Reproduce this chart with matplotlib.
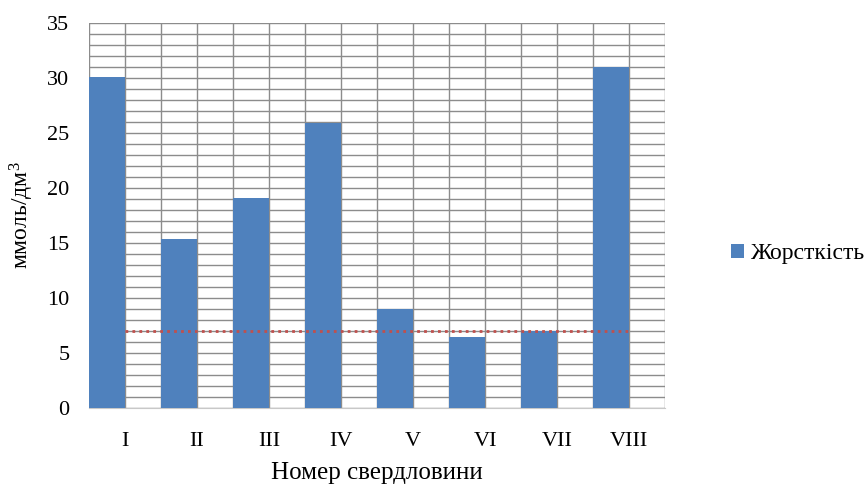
import numpy as np
import matplotlib
matplotlib.use('Agg')
import matplotlib.pyplot as plt
from matplotlib.ticker import MultipleLocator

# data
wells    = ['I', 'II', 'III', 'IV', 'V', 'VI', 'VII', 'VIII']
hardness = [30.1, 15.4, 19.1, 25.9, 9.0, 6.5, 7.0, 31.0]
norm     = [7.0] * len(wells)

plt.rcParams['font.family'] = ['Liberation Serif', 'DejaVu Serif']
plt.rcParams['mathtext.fontset'] = 'custom'
plt.rcParams['mathtext.rm'] = 'Liberation Serif'

fig = plt.figure(figsize=(8.68, 4.87), dpi=100)
ax = fig.add_axes([0.1025, 0.1622, 0.664, 0.7906])

x = np.arange(len(wells))
ax.bar(x - 0.25, hardness, width=0.5, color='#4F81BD', zorder=3,
       label='Жорсткість')
ax.plot(x, norm, color='#C0504D', lw=2, ls=(0, (1, 1.5)), zorder=4)

ax.set_xlim(-0.5, len(wells) - 0.5)
ax.set_ylim(0, 35)
ax.set_xticks(x)
ax.set_xticklabels(wells)
ax.xaxis.set_minor_locator(MultipleLocator(0.5))
ax.yaxis.set_major_locator(MultipleLocator(5))
ax.yaxis.set_minor_locator(MultipleLocator(1))

ax.grid(which='both', color='#8c8c8c', lw=1.0, zorder=0)
ax.tick_params(which='both', length=0, labelsize=16)
ax.tick_params(axis='x', pad=17)
ax.tick_params(axis='y', pad=14)
for side in ['top', 'right', 'left']:
    ax.spines[side].set_visible(False)
ax.spines['bottom'].set_color('#c8c8c8')

ax.set_xlabel('Номер свердловини', fontsize=18, labelpad=8)
ax.set_ylabel('ммоль/дм$\\mathregular{^3}$', fontsize=17, labelpad=8)

ax.legend(loc='center left', bbox_to_anchor=(1.097, 0.4), frameon=False,
          fontsize=17, handlelength=0.55, handleheight=0.55, handletextpad=0.3,
          borderaxespad=0)

fig.savefig('out.png', dpi=100)
